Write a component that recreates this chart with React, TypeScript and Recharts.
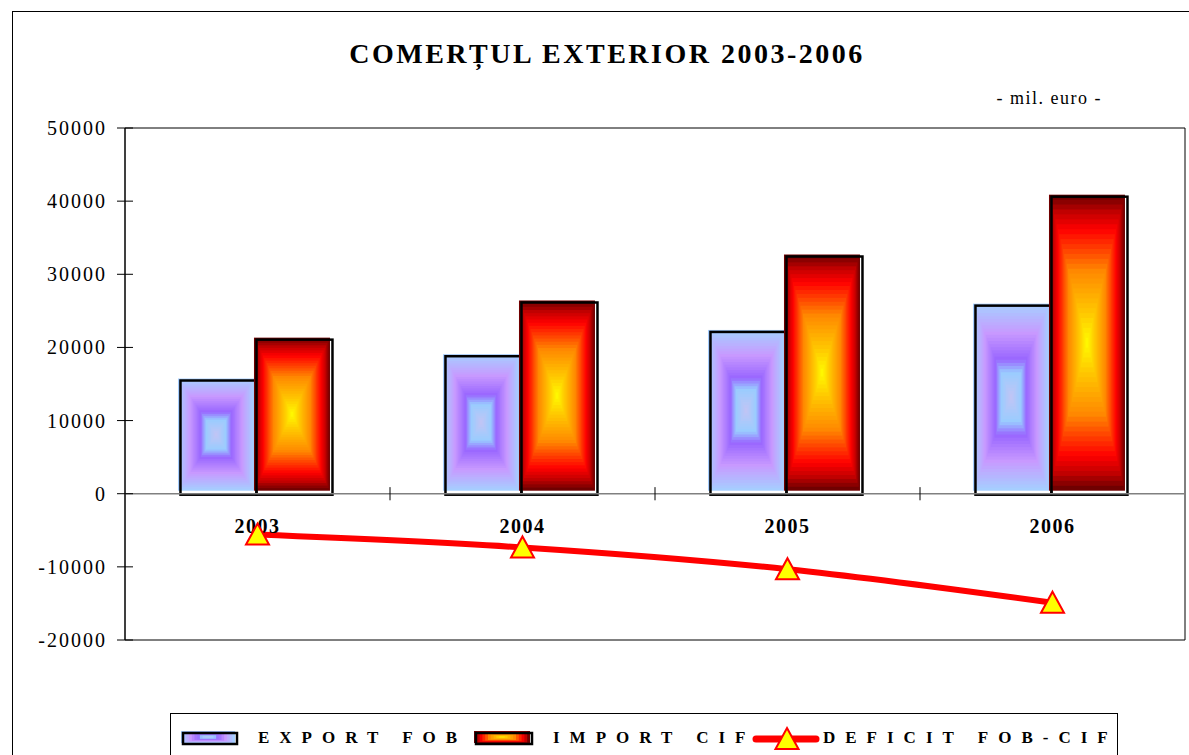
import React from 'react';
import {
  ComposedChart,
  Bar,
  Line,
  XAxis,
  YAxis,
  ReferenceLine,
  ReferenceArea,
  ReferenceDot,
} from 'recharts';

const years = ['2003', '2004', '2005', '2006'];
const exportFob = [15614, 18935, 22255, 25850];
const importCif = [21201, 26281, 32568, 40746];
const deficit = [-5587, -7346, -10313, -14896];
const yTicks = [-20000, -10000, 0, 10000, 20000, 30000, 40000, 50000];

const data = years.map((year, i) => ({
  year,
  exportFob: exportFob[i],
  importCif: importCif[i],
  deficit: deficit[i],
}));

const SERIF = '"Liberation Serif", "Times New Roman", serif';

type Stop = [number, string];
// t = 0 at the edge of the bar, t = 1 at its centre
const exportStops: Stop[] = [
  [0, '#A6CEFF'],
  [0.3, '#C899FF'],
  [0.58, '#9966FF'],
  [0.72, '#99CCFF'],
  [1, '#C4C4F4'],
];
const importStops: Stop[] = [
  [0, '#700000'],
  [0.1, '#C00000'],
  [0.22, '#FF0000'],
  [0.5, '#FF8800'],
  [0.8, '#FFCC00'],
  [1, '#FFFF00'],
];

function hexToRgb(h: string) {
  const n = parseInt(h.slice(1), 16);
  return [(n >> 16) & 255, (n >> 8) & 255, n & 255];
}

function mix(stops: Stop[], t: number) {
  for (let i = 1; i < stops.length; i++) {
    if (t <= stops[i][0]) {
      const [t0, c0] = stops[i - 1];
      const [t1, c1] = stops[i];
      const k = (t - t0) / (t1 - t0 || 1);
      const a = hexToRgb(c0);
      const b = hexToRgb(c1);
      const c = a.map((v, j) => Math.round(v + (b[j] - v) * k));
      return `rgb(${c[0]},${c[1]},${c[2]})`;
    }
  }
  return stops[stops.length - 1][1];
}

function BoxGradient({ x, y, width, height, stops, steps = 30 }: any) {
  const rects = [];
  for (let i = 0; i < steps; i++) {
    const t = i / steps;
    const dx = (t * width) / 2;
    const dy = (t * height) / 2;
    rects.push(
      <rect
        key={i}
        x={x + dx}
        y={y + dy}
        width={Math.max(width - 2 * dx, 0)}
        height={Math.max(height - 2 * dy, 0)}
        fill={mix(stops, t)}
      />
    );
  }
  return <g>{rects}</g>;
}

// filled box sits a little up-left of its black outline, like the original
const barShape = (stops: Stop[]) => (props: any) => {
  const { x, y, width, height } = props;
  if (!height || height <= 0) return <g />;
  return (
    <g>
      <BoxGradient x={x - 4} y={y - 1} width={width} height={height - 2} stops={stops} />
      <rect
        x={x - 1.5}
        y={y + 1}
        width={width}
        height={height}
        fill="none"
        stroke="#000"
        strokeWidth={2.5}
      />
    </g>
  );
};

const TriangleDot = (props: any) => {
  const { cx, cy, index } = props;
  if (cx == null || cy == null) return <g key={index} />;
  return (
    <path
      key={index}
      d={`M${cx},${cy - 11} L${cx + 11.5},${cy + 10} L${cx - 11.5},${cy + 10} Z`}
      fill="#FFFF00"
      stroke="#FF0000"
      strokeWidth={2}
    />
  );
};

// y tick: label plus a tick mark crossing the axis
const YTick = (props: any) => {
  const { x, y, payload } = props;
  const axisX = x + 18;
  return (
    <g>
      <line x1={axisX - 8} x2={axisX + 8} y1={y} y2={y} stroke="#000" strokeWidth={1} />
      <text
        x={x}
        y={y}
        dy={7}
        textAnchor="end"
        fill="#000"
        fontFamily={SERIF}
        fontSize={20}
        letterSpacing={2}
      >
        {payload.value}
      </text>
    </g>
  );
};

const legendText: React.CSSProperties = {
  position: 'absolute',
  top: 12,
  fontFamily: SERIF,
  fontWeight: 'bold',
  fontSize: 17,
  letterSpacing: 10,
  whiteSpace: 'pre',
  lineHeight: '24px',
};

function Swatch({ stops, w }: { stops: Stop[]; w: number }) {
  return (
    <svg width={w + 4} height={16} style={{ display: 'block' }}>
      <BoxGradient x={0} y={0} width={w} height={12} stops={stops} steps={10} />
      <rect x={2} y={2} width={w} height={11} fill="none" stroke="#000" strokeWidth={2.5} />
    </svg>
  );
}

function ChartLegend() {
  return (
    <div
      style={{
        position: 'absolute',
        left: 170,
        top: 713,
        width: 946,
        height: 60,
        border: '1px solid #000',
        background: '#fff',
      }}
    >
      <div style={{ position: 'absolute', left: 10, top: 17 }}>
        <Swatch stops={exportStops} w={54} />
      </div>
      <div style={{ ...legendText, left: 87 }}>EXPORT FOB</div>
      <div style={{ position: 'absolute', left: 303, top: 17 }}>
        <Swatch stops={importStops} w={56} />
      </div>
      <div style={{ ...legendText, left: 382 }}>IMPORT CIF</div>
      <svg width={68} height={34} style={{ position: 'absolute', left: 581, top: 8 }}>
        <line x1={4} y1={17} x2={64} y2={17} stroke="#FF0000" strokeWidth={7} strokeLinecap="round" />
        <TriangleDot cx={35} cy={17} index={0} />
      </svg>
      <div style={{ ...legendText, left: 652 }}>DEFICIT FOB-CIF</div>
    </div>
  );
}

export default function App() {
  return (
    <div
      style={{
        position: 'absolute',
        left: 0,
        top: 0,
        width: 1189,
        height: 755,
        overflow: 'hidden',
        background: '#fff',
      }}
    >
      <svg width={1189} height={755} style={{ position: 'absolute', left: 0, top: 0 }}>
        <rect x={12.5} y={11.5} width={1300} height={900} fill="none" stroke="#000" strokeWidth={1} />
        <text
          x={607}
          y={63}
          textAnchor="middle"
          fontFamily={SERIF}
          fontWeight="bold"
          fontSize={28}
          letterSpacing={2.5}
        >
          COMERȚUL EXTERIOR 2003-2006
        </text>
        <text x={1102} y={104} textAnchor="end" fontFamily={SERIF} fontSize={18} letterSpacing={1.5}>
          - mil. euro -
        </text>
      </svg>
      <div style={{ position: 'absolute', left: 0, top: 0 }}>
        <ComposedChart
          width={1189}
          height={755}
          data={data}
          margin={{ top: 128, right: 4, bottom: 115, left: 0 }}
          barCategoryGap="21.5%"
          barGap={0}
        >
          <XAxis dataKey="year" hide />
          <YAxis
            domain={[-20000, 50000]}
            ticks={yTicks}
            interval={0}
            width={125}
            tickSize={8}
            tickMargin={10}
            axisLine={{ stroke: '#000', strokeWidth: 1 }}
            tickLine={false}
            tick={<YTick />}
          />
          <ReferenceArea
            x1={years[0]}
            x2={years[years.length - 1]}
            y1={-20000}
            y2={50000}
            fill="none"
            fillOpacity={0}
            stroke="#000"
            strokeWidth={1}
          />
          <ReferenceLine y={0} stroke="#808080" strokeWidth={1.5} />
          {years.slice(1).map((year) => (
            <ReferenceLine
              key={year}
              position="start"
              segment={[
                { x: year, y: -900 },
                { x: year, y: 900 },
              ]}
              stroke="#000"
              strokeWidth={1}
            />
          ))}
          <Bar
            dataKey="exportFob"
            name="EXPORT FOB"
            shape={barShape(exportStops)}
            isAnimationActive={false}
          />
          <Bar
            dataKey="importCif"
            name="IMPORT CIF"
            shape={barShape(importStops)}
            isAnimationActive={false}
          />
          {years.map((year) => (
            <ReferenceDot
              key={year}
              x={year}
              y={0}
              r={0}
              shape={(p: any) => (
                <text
                  x={p.cx}
                  y={p.cy + 39}
                  textAnchor="middle"
                  fontFamily={SERIF}
                  fontWeight="bold"
                  fontSize={20}
                  letterSpacing={1.5}
                >
                  {year}
                </text>
              )}
            />
          ))}
          <Line
            type="monotone"
            dataKey="deficit"
            name="DEFICIT FOB-CIF"
            stroke="#FF0000"
            strokeWidth={6}
            dot={<TriangleDot />}
            activeDot={false}
            isAnimationActive={false}
          />
        </ComposedChart>
      </div>
      <ChartLegend />
    </div>
  );
}
